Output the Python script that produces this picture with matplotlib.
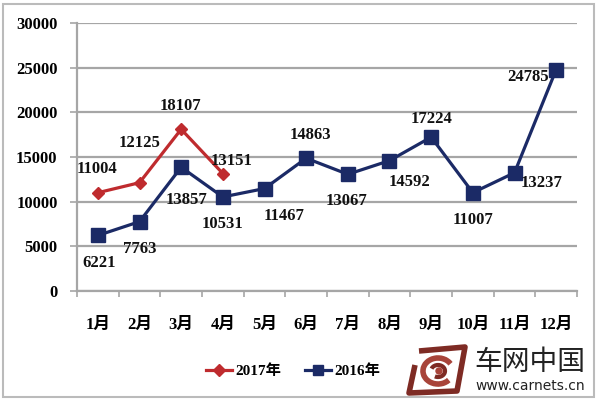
import matplotlib
matplotlib.use("Agg")
import matplotlib.pyplot as plt
from matplotlib.patches import Polygon, Arc, Circle, Rectangle
from matplotlib.lines import Line2D
import numpy as np

# data
months = ["1月", "2月", "3月", "4月", "5月", "6月", "7月", "8月", "9月", "10月", "11月", "12月"]
sales_2016 = [6221, 7763, 13857, 10531, 11467, 14863, 13067, 14592, 17224, 11007, 13237, 24785]
sales_2017 = [11004, 12125, 18107, 13151]
y_ticks = [0, 5000, 10000, 15000, 20000, 25000, 30000]

# label offsets in pixels (dx, dy, up is negative)
off_2016 = [(1, 28), (0, 27), (5, 33), (0, 27), (20, 27), (4, -23),
            (-1, 27), (20, 21), (0, -18), (0, 27), (27, 10), (-28, 7)]
off_2017 = [(-1, -24), (0, -40), (-1, -23), (9, -13)]

fonts = ["Liberation Serif", "Noto Sans CJK SC", "DejaVu Sans"]
plt.rcParams["font.family"] = fonts
plt.rcParams["font.weight"] = "bold"

red = "#BF2B2E"
navy = "#1B2A66"
grid_c = "#A6A6A6"

fig = plt.figure(figsize=(6, 4), dpi=100)
ax = fig.add_axes([77 / 600, 1 - 291 / 400, 500 / 600, 268 / 400])

x16 = np.arange(len(sales_2016))
x17 = np.arange(len(sales_2017))
ax.plot(x16, sales_2016, color=navy, lw=2.3, marker="s", ms=9.5, zorder=3)
ax.plot(x17, sales_2017, color=red, lw=2.3, marker="D", ms=6.5, zorder=4)

px = 0.72  # points per pixel
for xi, v, (dx, dy) in zip(x16, sales_2016, off_2016):
    ax.annotate(str(v), (xi, v), xytext=(dx * px, -dy * px), textcoords="offset points",
                ha="center", va="center", fontsize=12, fontweight="bold",
                family=fonts, color="#111111", zorder=5)
for xi, v, (dx, dy) in zip(x17, sales_2017, off_2017):
    ax.annotate(str(v), (xi, v), xytext=(dx * px, -dy * px), textcoords="offset points",
                ha="center", va="center", fontsize=12, fontweight="bold",
                family=fonts, color="#111111", zorder=5)

ax.set_xlim(-0.5, len(months) - 0.5)
ax.set_ylim(0, 30000)
ax.set_yticks(y_ticks)
ax.set_yticklabels([str(t) for t in y_ticks], fontsize=12, fontweight="bold")
ax.yaxis.grid(True, color=grid_c, lw=1.6)
ax.set_axisbelow(True)

ax.set_xticks(x16)
ax.set_xticklabels(months, fontsize=12, fontweight="bold")
ax.set_xticks(np.arange(-0.5, len(months)), minor=True)
ax.tick_params(axis="x", which="major", length=0, pad=19)
ax.tick_params(axis="x", which="minor", length=4, width=1.2, color=grid_c)
ax.tick_params(axis="y", length=5, width=1.2, color=grid_c, pad=9)

for s in ["top", "right"]:
    ax.spines[s].set_visible(False)
for s in ["left", "bottom"]:
    ax.spines[s].set_color(grid_c)
    ax.spines[s].set_linewidth(1.6)

# legend
h17 = Line2D([], [], color=red, lw=2.3, marker="D", ms=6)
h16 = Line2D([], [], color=navy, lw=2.3, marker="s", ms=7)
fig.legend([h17, h16], ["2017年", "2016年"], loc="center",
           bbox_to_anchor=(293 / 600, 1 - 371 / 400), ncol=2, frameon=False,
           handlelength=1.7, handletextpad=0.2, columnspacing=1.6,
           prop={"family": fonts, "weight": "bold", "size": 11})

# watermark
fig.text(530 / 600, 1 - 370 / 400, "车网中国", ha="center", va="baseline",
         fontsize=20, family=["Noto Sans CJK SC"], fontweight="normal", color="#222222")
fig.text(530 / 600, 1 - 390 / 400, "www.carnets.cn", ha="center", va="baseline",
         fontsize=10, family=["DejaVu Sans"], fontweight="normal", color="#222222")

lax = fig.add_axes([405 / 600, 1 - 397 / 400, 64 / 600, 54 / 400])
lax.set_xlim(0, 64)
lax.set_ylim(54, 0)
lax.axis("off")
lax.add_patch(Polygon([[14, 8], [60, 4], [52, 48], [4, 50], [10, 22]], closed=False,
                      fill=False, ec="#7E2B24", lw=4, joinstyle="round"))
lax.add_patch(Arc((33, 28), 30, 26, theta1=40, theta2=330, ec="#A8443A", lw=4))
lax.add_patch(Arc((33, 28), 14, 12, theta1=200, theta2=120, ec="#7E2B24", lw=3))
lax.add_patch(Circle((34, 28), 3, color="#A8443A"))

# border
fig.patches.append(Rectangle((3 / 600, 3 / 400), 591 / 600, 393 / 400, transform=fig.transFigure,
                             fill=False, ec="#BBBBBB", lw=1.5))

fig.savefig("out.png", dpi=100)
